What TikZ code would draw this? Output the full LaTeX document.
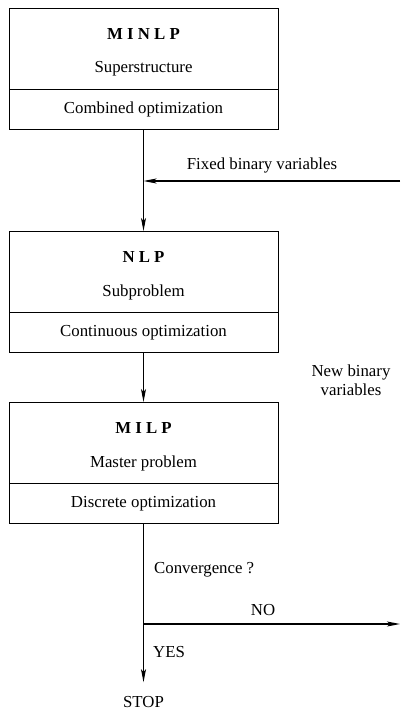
\documentclass[tikz,border=0pt]{standalone}
\usepackage{fontspec}
\setmainfont{Liberation Serif}
\usetikzlibrary{arrows.meta}
\begin{document}
\begin{tikzpicture}[x=1pt,y=-1pt,
  font=\fontsize{16.8}{19}\selectfont,
  part/.style={draw,line width=1pt,minimum width=269pt,inner sep=0pt,anchor=north},
  lbl/.style={inner sep=0pt},
  conn/.style={line width=1.2pt},
  arr/.style={conn,-{Stealth[length=13pt,width=5pt,inset=3pt]}}
]
\useasboundingbox (0,0) rectangle (400,711);
% box 1
\node[part,minimum height=81pt] (b1top) at (143.5,8) {};
\node[part,minimum height=40pt] (b1bot) at (143.5,89) {};
\node[lbl] (t1a) at (143.5,34) {\bfseries M I N L P};
\node[lbl] (t1b) at (143.5,69) {Superstructure};
\node[lbl] (t1c) at (b1bot) {Combined optimization};
% box 2
\node[part,minimum height=81pt] (b2top) at (143.5,231) {};
\node[part,minimum height=40pt] (b2bot) at (143.5,312) {};
\node[lbl] (t2a) at (143.5,257) {\bfseries N L P};
\node[lbl] (t2b) at (143.5,292) {Subproblem};
\node[lbl] (t2c) at (b2bot) {Continuous optimization};
% box 3
\node[part,minimum height=81pt] (b3top) at (143.5,402) {};
\node[part,minimum height=40pt] (b3bot) at (143.5,483) {};
\node[lbl] (t3a) at (143.5,428) {\bfseries M I L P};
\node[lbl] (t3b) at (143.5,463) {Master problem};
\node[lbl] (t3c) at (b3bot) {Discrete optimization};
% labels
\node[lbl] (fixed) at (262,165) {Fixed binary variables};
\node[lbl,align=center] (newb) at (351,380) {New binary\\variables};
\node[lbl,anchor=west] (conv) at (154,570) {Convergence ?};
\node[lbl] (no) at (263,610) {NO};
\node[lbl,anchor=west] (yes) at (153,652) {YES};
\node[lbl] (stop) at (143.5,702) {STOP};
% coordinates
\coordinate (jfix) at (143.5,181);
\coordinate (rfix) at (400,181);
\coordinate (jno) at (143.5,624);
\coordinate (rno) at (400,624);
% connectors
\draw[arr] (b1bot.south) -- (b2top.north);
\draw[arr] (rfix) -- (jfix);
\draw[arr] (b2bot.south) -- (b3top.north);
\draw[arr,shorten >=14pt] (b3bot.south) -- (stop.north);
\draw[arr] (jno) -- (rno);
\end{tikzpicture}
\end{document}
